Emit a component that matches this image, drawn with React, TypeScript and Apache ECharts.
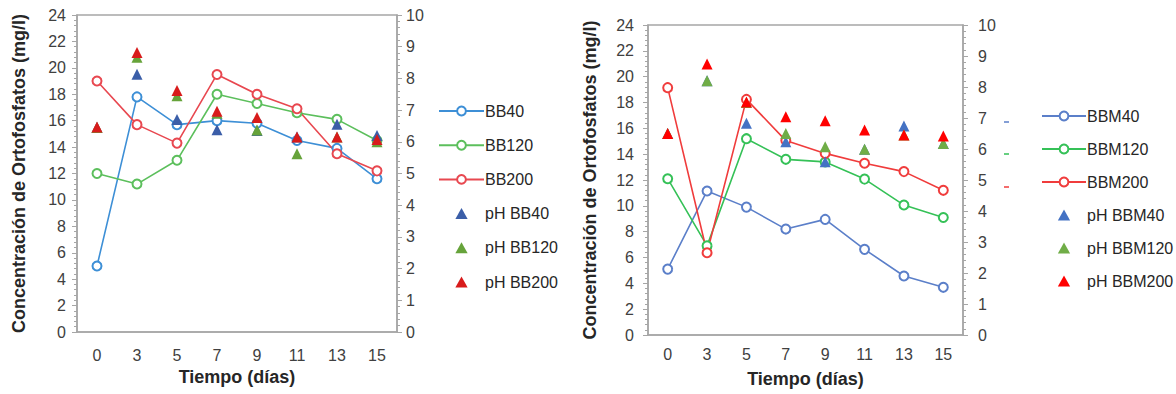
import React, { useEffect, useRef } from "react";
import * as echarts from "echarts";

const days = ["0", "3", "5", "7", "9", "11", "13", "15"];
const leftConcTicks = [0, 24, 2];
const phTicks = [0, 10, 1];

// Left chart (BB)
const bb40 = [5.0, 17.8, 15.7, 16.0, 15.8, 14.5, 13.9, 11.6];
const bb120 = [12.0, 11.2, 13.0, 18.0, 17.3, 16.6, 16.1, 14.5];
const bb200 = [19.0, 15.7, 14.3, 19.5, 18.0, 16.9, 13.5, 12.2];
const phBB40 = [6.45, 8.13, 6.7, 6.38, 6.36, 6.15, 6.55, 6.2];
const phBB120 = [6.45, 8.67, 7.45, 6.9, 6.37, 5.62, 6.15, 6.0];
const phBB200 = [6.47, 8.82, 7.62, 6.96, 6.77, 6.15, 6.15, 6.07];

// Right chart (BBM)
const bbm40 = [5.1, 11.15, 9.9, 8.2, 8.95, 6.63, 4.57, 3.69];
const bbm120 = [12.1, 6.9, 15.2, 13.6, 13.4, 12.07, 10.06, 9.1];
const bbm200 = [19.15, 6.37, 18.24, 15.05, 14.06, 13.3, 12.65, 11.2];
const phBBM40 = [6.5, 8.2, 6.83, 6.23, 5.59, 5.99, 6.74, 6.18];
const phBBM120 = [6.5, 8.2, 7.5, 6.5, 6.07, 5.99, 6.45, 6.18];
const phBBM200 = [6.5, 8.74, 7.52, 7.04, 6.91, 6.61, 6.45, 6.42];

const leftLineNames = ["BB40", "BB120", "BB200"];
const leftPhNames = ["pH BB40", "pH BB120", "pH BB200"];
const rightLineNames = ["BBM40", "BBM120", "BBM200"];
const rightPhNames = ["pH BBM40", "pH BBM120", "pH BBM200"];

const FONT = "'Liberation Sans', Arial, sans-serif";
const AXIS_GRAY = "#a6a6a6";
const LABEL = "#404040";
const TRI_ICON = "path://M5,0 L10,9 L0,9 Z";

function lineSeries(name: string, data: number[], color: string, idx: number) {
  return {
    name,
    type: "line",
    xAxisIndex: idx,
    yAxisIndex: idx * 2,
    data,
    symbol: "emptyCircle",
    symbolSize: 9,
    showSymbol: true,
    itemStyle: { color, borderWidth: 1.5 },
    lineStyle: { color, width: 1.6 },
    z: 2,
  };
}

function triSeries(name: string, data: number[], color: string, idx: number) {
  return {
    name,
    type: "scatter",
    xAxisIndex: idx,
    yAxisIndex: idx * 2 + 1,
    data,
    symbol: "triangle",
    symbolSize: 11,
    itemStyle: { color, opacity: 1 },
    z: 3,
  };
}

function xAxis(gridIndex: number, margin: number) {
  return {
    type: "category",
    gridIndex,
    data: days,
    boundaryGap: true,
    axisLine: { lineStyle: { color: AXIS_GRAY, width: 1.5 } },
    axisTick: { show: false },
    axisLabel: { color: LABEL, fontSize: 16, fontFamily: FONT, margin },
    name: "Tiempo (días)",
    nameLocation: "middle",
    nameGap: 35,
    nameTextStyle: { color: "#262626", fontSize: 18, fontWeight: "bold", fontFamily: FONT },
  };
}

function yAxes(gridIndex: number, leftMargin: number, rightMargin: number) {
  return [
    {
      type: "value",
      gridIndex,
      position: "left",
      min: leftConcTicks[0],
      max: leftConcTicks[1],
      interval: leftConcTicks[2],
      axisLine: { show: true, lineStyle: { color: AXIS_GRAY, width: 1.5 } },
      axisTick: { show: true, length: 5, lineStyle: { color: AXIS_GRAY } },
      minorTick: { show: true, splitNumber: 5, length: 3, lineStyle: { color: AXIS_GRAY } },
      splitLine: { show: false },
      axisLabel: { color: LABEL, fontSize: 16, fontFamily: FONT, margin: leftMargin },
      name: "Concentración de Ortofosfatos (mg/l)",
      nameLocation: "middle",
      nameRotate: 90,
      nameGap: 49,
      nameTextStyle: { color: "#262626", fontSize: 18, fontWeight: "bold", fontFamily: FONT },
    },
    {
      type: "value",
      gridIndex,
      position: "right",
      min: phTicks[0],
      max: phTicks[1],
      interval: phTicks[2],
      axisLine: { show: true, lineStyle: { color: AXIS_GRAY, width: 1.5 } },
      axisTick: { show: true, length: 5, lineStyle: { color: AXIS_GRAY } },
      minorTick: { show: true, splitNumber: 5, length: 3, lineStyle: { color: AXIS_GRAY } },
      splitLine: { show: false },
      axisLabel: { color: LABEL, fontSize: 16, fontFamily: FONT, margin: rightMargin },
    },
  ];
}

export default function App() {
  const ref = useRef<HTMLDivElement>(null);

  useEffect(() => {
    document.body.style.margin = "0";
    if (!ref.current) return;
    const chart = echarts.init(ref.current, null, { renderer: "svg" });

    const leftColors = ["#3d8fd6", "#5cbf5c", "#e84850"];
    const leftTri = ["#3b5ea8", "#66a33a", "#d81b1b"];
    const rightColors = ["#5b7fc9", "#35c157", "#f03c3c"];
    const rightTri = ["#4472c4", "#70ad47", "#ff0000"];

    const legendCommon = {
      orient: "vertical",
      itemWidth: 45,
      itemHeight: 11,
      symbolKeepAspect: true,
      textStyle: { color: "#262626", fontSize: 16, fontFamily: FONT, padding: [0, 0, 0, -4] },
    };

    chart.setOption({
      animation: false,
      backgroundColor: "#ffffff",
      grid: [
        { left: 77, top: 15, width: 320, height: 317, show: true, borderColor: AXIS_GRAY, borderWidth: 1.5, backgroundColor: "transparent" },
        { left: 648, top: 25, width: 315, height: 310, show: true, borderColor: AXIS_GRAY, borderWidth: 1.5, backgroundColor: "transparent" },
      ],
      xAxis: [xAxis(0, 15), xAxis(1, 11)],
      yAxis: [...yAxes(0, 11, 9), ...yAxes(1, 14, 15)],
      legend: [
        {
          ...legendCommon,
          left: 433,
          top: 98,
          itemGap: 18.2,
          data: [
            ...leftLineNames,
            ...leftPhNames.map((n) => ({ name: n, icon: TRI_ICON })),
          ],
        },
        {
          ...legendCommon,
          left: 1036,
          top: 103,
          itemWidth: 44,
          itemGap: 17,
          data: [
            ...rightLineNames,
            ...rightPhNames.map((n) => ({ name: n, icon: TRI_ICON })),
          ],
        },
      ],
      graphic: [
        { type: "line", shape: { x1: 1004, y1: 122, x2: 1009, y2: 122 }, style: { stroke: rightColors[0], lineWidth: 1.5 } },
        { type: "line", shape: { x1: 1004, y1: 154, x2: 1009, y2: 154 }, style: { stroke: rightColors[1], lineWidth: 1.5 } },
        { type: "line", shape: { x1: 1004, y1: 187, x2: 1009, y2: 187 }, style: { stroke: rightColors[2], lineWidth: 1.5 } },
      ],
      series: [
        lineSeries(leftLineNames[0], bb40, leftColors[0], 0),
        lineSeries(leftLineNames[1], bb120, leftColors[1], 0),
        lineSeries(leftLineNames[2], bb200, leftColors[2], 0),
        triSeries(leftPhNames[0], phBB40, leftTri[0], 0),
        triSeries(leftPhNames[1], phBB120, leftTri[1], 0),
        triSeries(leftPhNames[2], phBB200, leftTri[2], 0),
        lineSeries(rightLineNames[0], bbm40, rightColors[0], 1),
        lineSeries(rightLineNames[1], bbm120, rightColors[1], 1),
        lineSeries(rightLineNames[2], bbm200, rightColors[2], 1),
        triSeries(rightPhNames[0], phBBM40, rightTri[0], 1),
        triSeries(rightPhNames[1], phBBM120, rightTri[1], 1),
        triSeries(rightPhNames[2], phBBM200, rightTri[2], 1),
      ],
    });

    return () => chart.dispose();
  }, []);

  return <div ref={ref} style={{ width: 1176, height: 394 }} />;
}
